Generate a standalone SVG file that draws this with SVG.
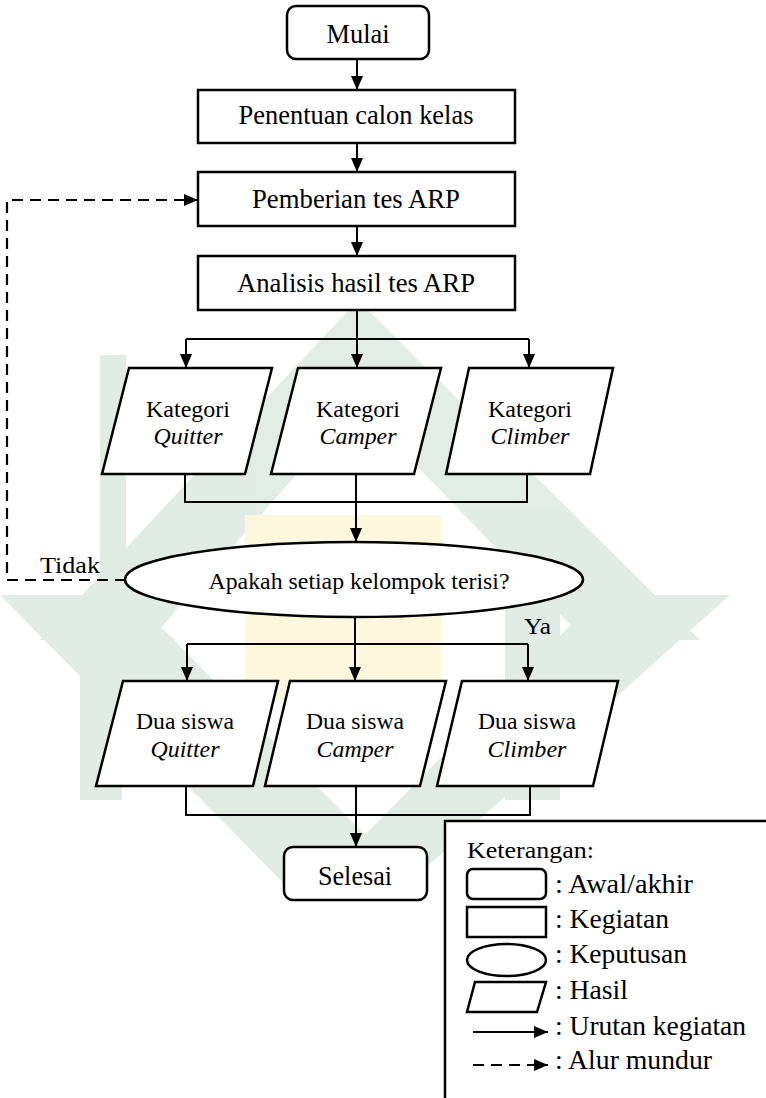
<svg xmlns="http://www.w3.org/2000/svg" width="766" height="1098" viewBox="0 0 766 1098">
<defs>
<style>
.box{fill:#fff;stroke:#000;stroke-width:2.5}
.ln{fill:none;stroke:#000;stroke-width:2}
.dash{fill:none;stroke:#000;stroke-width:2.2;stroke-dasharray:11 7}
text{font-family:'Liberation Serif','Times New Roman','DejaVu Serif',serif;fill:#000;font-size:24px}
.c{text-anchor:middle}
.i{font-style:italic}
.b{font-size:26.5px}
.lg{font-size:27.5px}
.wg{fill:#d5e5da}
.wy{fill:#fcf4cf}
</style>
<marker id="ah" markerWidth="14" markerHeight="12" refX="14" refY="6" orient="auto" markerUnits="userSpaceOnUse"><path d="M0,0 L14,6 L0,12 z" fill="#000"/></marker>
</defs>
<rect width="766" height="1098" fill="#fff"/>
<g id="watermark" opacity="0.7">
<path class="wg" fill-rule="evenodd" d="M358,300 L700,640 L40,640 Z M358,405 L585,640 L150,640 Z"/>
<path class="wg" fill-rule="evenodd" d="M0,595 L730,595 L390,900 L300,900 Z M130,595 L600,595 L365,835 Z"/>
<rect class="wg" x="505" y="595" width="55" height="205"/>
<rect class="wg" x="80" y="600" width="42" height="200"/>
<rect class="wg" x="100" y="355" width="26" height="245"/>
<rect class="wy" x="245" y="515" width="196" height="185"/>
</g>
<g id="connectors">
<path class="ln" d="M357,59 V90" marker-end="url(#ah)"/>
<path class="ln" d="M357,143 V172" marker-end="url(#ah)"/>
<path class="ln" d="M357,226 V256" marker-end="url(#ah)"/>
<path class="ln" d="M357,310 V368" marker-end="url(#ah)"/>
<path class="ln" d="M186,339 H529"/>
<path class="ln" d="M186,339 V368" marker-end="url(#ah)"/>
<path class="ln" d="M529,339 V368" marker-end="url(#ah)"/>
<path class="ln" d="M185,474 V502 H527 V474"/>
<path class="ln" d="M356,474 V542" marker-end="url(#ah)"/>
<path class="ln" d="M355,617 V681" marker-end="url(#ah)"/>
<path class="ln" d="M187,644 H528"/>
<path class="ln" d="M187,644 V681" marker-end="url(#ah)"/>
<path class="ln" d="M528,644 V681" marker-end="url(#ah)"/>
<path class="ln" d="M186,786 V815 H530 V786"/>
<path class="ln" d="M356,786 V847" marker-end="url(#ah)"/>
<path class="dash" d="M126,580 H7 V200 H198" marker-end="url(#ah)"/>
<text x="40" y="573" textLength="60" lengthAdjust="spacingAndGlyphs">Tidak</text>
<text x="524" y="634" textLength="27" lengthAdjust="spacingAndGlyphs">Ya</text>
</g>
<g id="mulai">
<rect class="box" x="287" y="6" width="142" height="53" rx="9"/>
<text class="c b" x="358" y="43" textLength="63" lengthAdjust="spacingAndGlyphs">Mulai</text>
</g>
<g id="penentuan">
<rect class="box" x="198" y="90" width="317" height="53"/>
<text class="c b" x="356" y="124" textLength="235" lengthAdjust="spacingAndGlyphs">Penentuan calon kelas</text>
</g>
<g id="pemberian">
<rect class="box" x="198" y="172" width="317" height="54"/>
<text class="c b" x="356" y="208" textLength="208" lengthAdjust="spacingAndGlyphs">Pemberian tes ARP</text>
</g>
<g id="analisis">
<rect class="box" x="198" y="256" width="317" height="54"/>
<text class="c b" x="356" y="292" textLength="238" lengthAdjust="spacingAndGlyphs">Analisis hasil tes ARP</text>
</g>
<g id="kat-quitter">
<polygon class="box" points="129,368 272,368 245,474 102,474"/>
<text class="c" x="188" y="417" textLength="84" lengthAdjust="spacingAndGlyphs">Kategori</text>
<text class="c i" x="188" y="444" textLength="69" lengthAdjust="spacingAndGlyphs">Quitter</text>
</g>
<g id="kat-camper">
<polygon class="box" points="298,368 441,368 414,474 271,474"/>
<text class="c" x="358" y="417" textLength="84" lengthAdjust="spacingAndGlyphs">Kategori</text>
<text class="c i" x="358" y="444" textLength="77" lengthAdjust="spacingAndGlyphs">Camper</text>
</g>
<g id="kat-climber">
<polygon class="box" points="469,368 613,368 590,474 446,474"/>
<text class="c" x="530" y="417" textLength="84" lengthAdjust="spacingAndGlyphs">Kategori</text>
<text class="c i" x="530" y="444" textLength="79" lengthAdjust="spacingAndGlyphs">Climber</text>
</g>
<g id="keputusan">
<ellipse class="box" cx="354" cy="579.5" rx="229" ry="37.5"/>
<text class="c" x="359" y="589" textLength="301" lengthAdjust="spacingAndGlyphs">Apakah setiap kelompok terisi?</text>
</g>
<g id="dua-quitter">
<polygon class="box" points="123,681 278,681 253,786 96,786"/>
<text class="c" x="185" y="729" textLength="98" lengthAdjust="spacingAndGlyphs">Dua siswa</text>
<text class="c i" x="185" y="757" textLength="69" lengthAdjust="spacingAndGlyphs">Quitter</text>
</g>
<g id="dua-camper">
<polygon class="box" points="290,681 446,681 420,786 265,786"/>
<text class="c" x="355" y="729" textLength="98" lengthAdjust="spacingAndGlyphs">Dua siswa</text>
<text class="c i" x="355" y="757" textLength="77" lengthAdjust="spacingAndGlyphs">Camper</text>
</g>
<g id="dua-climber">
<polygon class="box" points="462,681 618,681 593,786 437,786"/>
<text class="c" x="527" y="729" textLength="98" lengthAdjust="spacingAndGlyphs">Dua siswa</text>
<text class="c i" x="527" y="757" textLength="79" lengthAdjust="spacingAndGlyphs">Climber</text>
</g>
<g id="selesai">
<rect class="box" x="284" y="847" width="143" height="53" rx="9"/>
<text class="c b" x="355" y="885" textLength="74" lengthAdjust="spacingAndGlyphs">Selesai</text>
</g>
<g id="legend">
<rect class="box" x="445" y="821" width="340" height="300"/>
<text x="467" y="858" font-size="26" textLength="127" lengthAdjust="spacingAndGlyphs">Keterangan:</text>
<rect class="box" x="467" y="869" width="79" height="30" rx="6" stroke-width="2"/>
<text class="lg" x="555" y="893" textLength="138" lengthAdjust="spacingAndGlyphs">: Awal/akhir</text>
<rect class="box" x="467" y="907" width="79" height="30" stroke-width="2"/>
<text class="lg" x="555" y="928" textLength="114" lengthAdjust="spacingAndGlyphs">: Kegiatan</text>
<ellipse class="box" cx="506.5" cy="960" rx="39.5" ry="16" stroke-width="2"/>
<text class="lg" x="555" y="963" textLength="132" lengthAdjust="spacingAndGlyphs">: Keputusan</text>
<polygon class="box" points="475,982 546,982 537,1012 467,1012" stroke-width="2"/>
<text class="lg" x="555" y="999" textLength="73" lengthAdjust="spacingAndGlyphs">: Hasil</text>
<path class="ln" d="M473,1032 H548" marker-end="url(#ah)"/>
<text class="lg" x="555" y="1035" textLength="191" lengthAdjust="spacingAndGlyphs">: Urutan kegiatan</text>
<path class="dash" d="M473,1065 H548" marker-end="url(#ah)" stroke-dasharray="10 7"/>
<text class="lg" x="555" y="1069" textLength="157" lengthAdjust="spacingAndGlyphs">: Alur mundur</text>
</g>
</svg>
